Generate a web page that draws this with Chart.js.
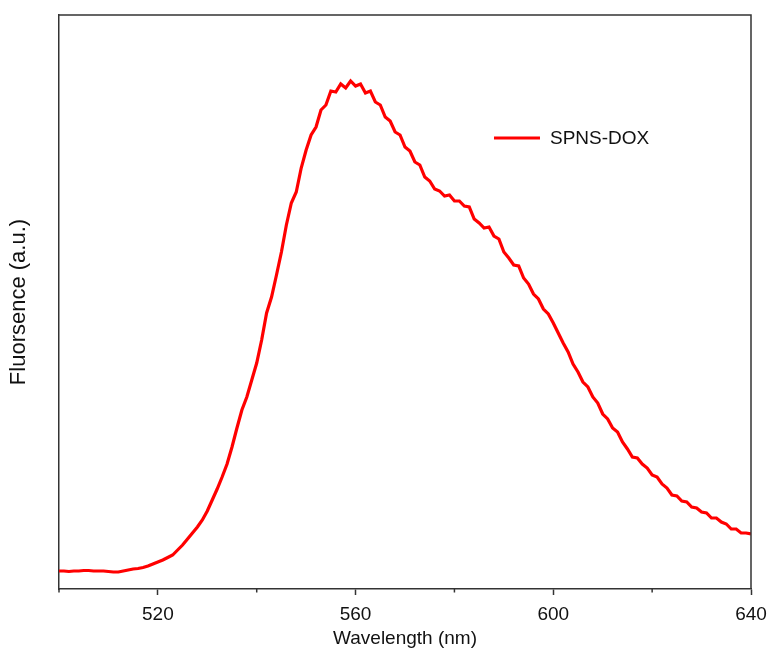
<!DOCTYPE html>
<html>
<head>
<meta charset="utf-8">
<script src="https://cdn.jsdelivr.net/npm/chart.js@4/dist/chart.umd.min.js"></script>
<style>
html,body{margin:0;padding:0;background:#fff;}
#wrap{width:770px;height:653px;}
</style>
</head>
<body>
<div id="wrap"><canvas id="c" width="770" height="653"></canvas></div>
<script>
const wavelengths = [];
for (let w = 500; w <= 640; w++) wavelengths.push(w);
const fluorescence = [
18,18,17.5,18,18,18.5,18.5,18,18,18,
17.5,17,17,18,19,20,20.5,21.5,23,25,
27,29,31.5,34,39,44,50,56,62,69,
78,89,100,112,125,142,161,179,192,209,
226,249,276,292,314,337,364,386,397,421,
439,454,462,479,484,498,497,505,501,508,
503,505,496,498,487,484,472,468,457,454,
442,438,427,424,412,408,400,398,393,394,
388,388,383,382,370,366,361,362,353,350,
337,331,324,323,311,305,295,290,280,275,
266,256,246,237,225,217,207,202,192,186,
175,170,161,157,147,140,132,131,125,121,
114,112,105,101,94,93,88,87,82,81,
77,76,71,71,67,65,60,60,56,56,
55
];
const seriesLabel = 'SPNS-DOX';
const xTickLabels = [520, 560, 600, 640];
const xTitle = 'Wavelength (nm)';
const yTitle = 'Fluorsence (a.u.)';

const FONT = '"Liberation Sans", Arial, Helvetica, sans-serif';
const AXIS = '#333333';

const framePlugin = {
  id: 'frame',
  afterDatasetsDraw(chart) {
    const {ctx, chartArea: a, scales} = chart;
    ctx.save();
    ctx.strokeStyle = AXIS;
    ctx.lineWidth = 1.5;
    ctx.beginPath();
    ctx.moveTo(a.left, a.top);
    ctx.lineTo(a.right, a.top);
    ctx.lineTo(a.right, a.bottom);
    ctx.stroke();
    const xs = scales.x;
    xs.ticks.forEach(t => {
      if (!xTickLabels.includes(t.value)) {
        const px = xs.getPixelForValue(t.value);
        ctx.beginPath();
        ctx.moveTo(px, a.bottom);
        ctx.lineTo(px, a.bottom + 3.5);
        ctx.stroke();
      }
    });
    const ds = chart.data.datasets[0];
    const lx = a.left + (a.right - a.left) * 0.6286;
    const ly = a.top + (a.bottom - a.top) * 0.2143;
    ctx.strokeStyle = ds.borderColor;
    ctx.lineWidth = 3;
    ctx.beginPath();
    ctx.moveTo(lx, ly);
    ctx.lineTo(lx + 46, ly);
    ctx.stroke();
    ctx.fillStyle = '#111';
    ctx.font = '19px ' + FONT;
    ctx.textBaseline = 'middle';
    ctx.textAlign = 'left';
    ctx.fillText(ds.label, lx + 56, ly + 1);
    ctx.restore();
  }
};

new Chart(document.getElementById('c'), {
  type: 'line',
  data: {
    labels: wavelengths,
    datasets: [{
      label: seriesLabel,
      data: wavelengths.map((w, i) => ({x: w, y: fluorescence[i]})),
      borderColor: '#ff0000',
      borderWidth: 3.2,
      pointRadius: 0,
      tension: 0,
      fill: false
    }]
  },
  options: {
    responsive: false,
    animation: false,
    layout: {padding: {left: 0, right: 19, top: 15, bottom: 0}},
    plugins: {legend: {display: false}, tooltip: {enabled: false}},
    scales: {
      x: {
        type: 'linear',
        min: 500, max: 640,
        afterFit(s) { s.height = 64; s.paddingLeft = 0; s.paddingRight = 0; },
        ticks: {
          stepSize: 20,
          autoSkip: false,
          maxRotation: 0,
          padding: 8,
          color: '#111',
          font: {family: FONT, size: 19},
          callback: v => xTickLabels.includes(v) ? String(v) : ''
        },
        grid: {
          display: true,
          drawOnChartArea: false,
          drawTicks: true,
          tickLength: 6,
          tickWidth: 1.5,
          tickColor: ctx => (ctx.tick && xTickLabels.includes(ctx.tick.value)) ? AXIS : 'rgba(0,0,0,0)'
        },
        border: {display: true, color: AXIS, width: 1.5},
        title: {
          display: true, text: xTitle, color: '#111',
          font: {family: FONT, size: 19},
          padding: {top: 0, bottom: 3}
        }
      },
      y: {
        min: 0, max: 574,
        afterFit(s) { s.width = 59; },
        ticks: {display: false},
        grid: {display: false},
        border: {display: true, color: AXIS, width: 1.5},
        title: {
          display: true, text: yTitle, color: '#111',
          font: {family: FONT, size: 22},
          padding: {top: 6, bottom: 0}
        }
      }
    }
  },
  plugins: [framePlugin]
});
</script>
</body>
</html>
